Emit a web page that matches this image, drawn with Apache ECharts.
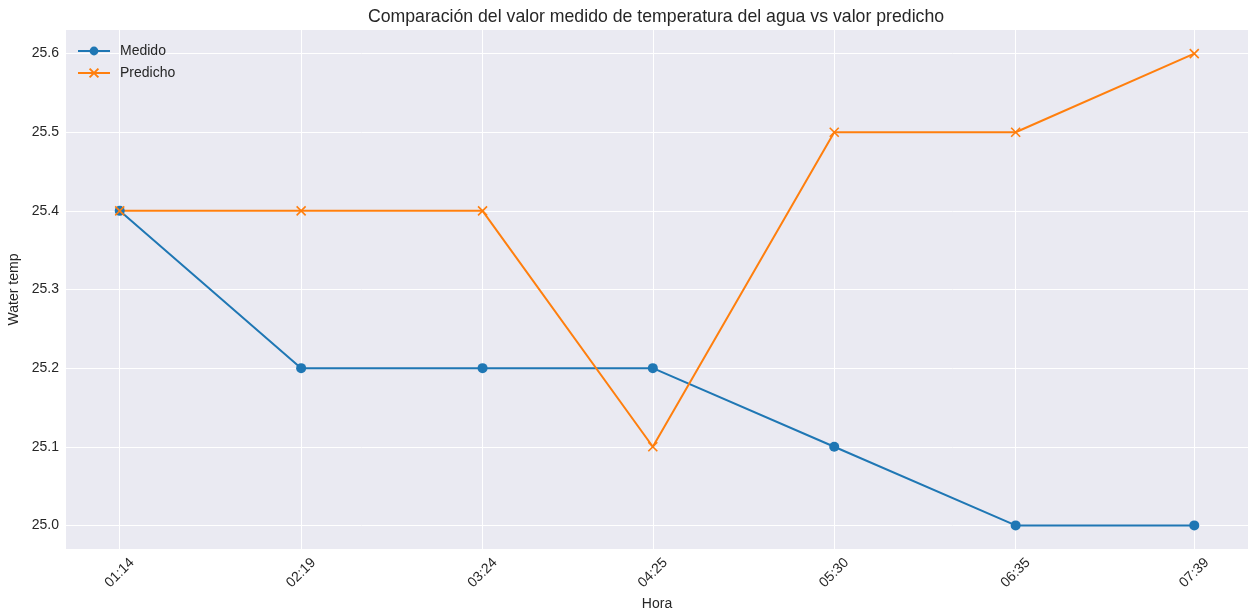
<!DOCTYPE html>
<html><head><meta charset="utf-8">
<script src="https://cdn.jsdelivr.net/npm/echarts@6/dist/echarts.min.js"></script>
<style>html,body{margin:0;padding:0;background:#fff}#c{width:1249px;height:613px}</style>
</head><body><div id="c"></div>
<script>
const timeLabels = ['01:14','02:19','03:24','04:25','05:30','06:35','07:39'];
const medido = [25.4, 25.2, 25.2, 25.2, 25.1, 25.0, 25.0];
const predicho = [25.4, 25.4, 25.4, 25.1, 25.5, 25.5, 25.6];
const yTicks = [25.0, 25.1, 25.2, 25.3, 25.4, 25.5, 25.6];

function toMin(s){const p=s.split(':');return (+p[0])*60+(+p[1]);}
function fmt(m){const h=Math.floor(m/60), mm=Math.round(m-h*60);return String(h).padStart(2,'0')+':'+String(mm).padStart(2,'0');}
const xs = timeLabels.map(toMin);
const xSpan = xs[xs.length-1]-xs[0];
const xMin = xs[0]-0.05*xSpan, xMax = xs[xs.length-1]+0.05*xSpan;
const allY = medido.concat(predicho);
const yLo = Math.min(...allY), yHi = Math.max(...allY), ySpan = yHi-yLo;
const yMin = yLo-0.05*ySpan, yMax = yHi+0.05*ySpan;

const font = 'Liberation Sans, Arial, sans-serif';
const chart = echarts.init(document.getElementById('c'));
chart.setOption({
  backgroundColor:'#ffffff',
  animation:false,
  textStyle:{fontFamily:font},
  title:{text:'Comparación del valor medido de temperatura del agua vs valor predicho',left:651,textAlign:'center',top:3,
    textStyle:{fontFamily:font,fontSize:17.7,fontWeight:'normal',color:'#262626'}},
  legend:{left:72,top:39,orient:'vertical',itemWidth:32,itemHeight:11,itemGap:8,
    textStyle:{fontFamily:font,fontSize:14,color:'#262626',padding:[0,0,0,5]},
    data:['Medido','Predicho']},
  grid:{left:66,right:1,top:30,bottom:64,show:true,backgroundColor:'#eaeaf2',borderWidth:0,outerBoundsMode:'none',containLabel:false},
  xAxis:{type:'value',min:xMin,max:xMax,name:'Hora',nameLocation:'middle',nameGap:46,
    nameTextStyle:{fontFamily:font,fontSize:14,color:'#262626'},
    axisLine:{show:false},axisTick:{show:false,customValues:xs},
    axisLabel:{customValues:xs,rotate:45,align:'center',verticalAlign:'middle',formatter:v=>fmt(v),fontFamily:font,fontSize:14,color:'#262626',margin:24},
    splitLine:{show:true,lineStyle:{color:'#ffffff',width:1}}},
  yAxis:{type:'value',min:yMin,max:yMax,name:'Water temp',nameLocation:'middle',nameGap:44,
    nameTextStyle:{fontFamily:font,fontSize:14,color:'#262626'},
    axisLine:{show:false},axisTick:{show:false,customValues:yTicks},
    axisLabel:{customValues:yTicks,formatter:v=>v.toFixed(1),fontFamily:font,fontSize:14,color:'#262626',margin:7},
    splitLine:{show:true,lineStyle:{color:'#ffffff',width:1}}},
  series:[
    {name:'Medido',type:'line',data:xs.map((x,i)=>[x,medido[i]]),symbol:'circle',symbolSize:10,
      color:'#1f77b4',lineStyle:{width:2,color:'#1f77b4'},itemStyle:{color:'#1f77b4'}},
    {name:'Predicho',type:'line',data:xs.map((x,i)=>[x,predicho[i]]),symbol:'path://M0,0L10,10M10,0L0,10',symbolSize:9,
      color:'#ff7f0e',lineStyle:{width:2,color:'#ff7f0e'},itemStyle:{color:'#ff7f0e',borderColor:'#ff7f0e',borderWidth:1.6}}
  ]
});
</script></body></html>
